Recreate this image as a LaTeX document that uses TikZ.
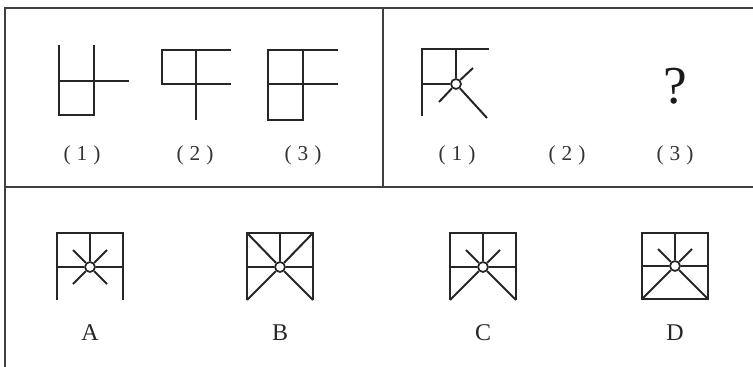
\documentclass[tikz,border=0pt]{standalone}
\usepackage{fontspec}
\setmainfont{Liberation Serif}
\usetikzlibrary{positioning}
\newcommand\figlab[1]{(\kern4.5pt#1\kern4.5pt)}
\tikzset{
	frameline/.style={line width=1.8pt, black!75},
	figline/.style={line width=1.5pt, black!85},
	hub/.style={
		draw=black!85, circle, fill=white, line width=1.3pt,
		minimum size=7.5pt, inner sep=0pt
	},
	numlab/.style={font=\fontsize{16}{18}\selectfont, text=black!80, inner sep=0pt},
	optlab/.style={font=\fontsize{18}{20}\selectfont, text=black!85, inner sep=0pt},
}

\begin{document}
\begin{tikzpicture}[x=0.75pt, y=-0.75pt]
	\useasboundingbox (0,0) rectangle (753,367);
	
	\draw[frameline] (753,8) -- (5,8) -- (5,367);
	\draw[frameline] (5,187) -- (753,187);
	\draw[frameline] (383,8) -- (383,187);
	
	\draw[figline] (59,45) -- (59,115) -- (94,115) -- (94,45);
	\draw[figline] (59,81) -- (129,81);
	\draw[figline] (231,50) -- (162,50) -- (162,84) -- (231,84);
	\draw[figline] (196,50) -- (196,120);
	\draw[figline] (338,50) -- (268,50) -- (268,120) -- (303,120) -- (303,50);
	\draw[figline] (268,84) -- (338,84);
	
	\node[numlab] (l1) at (82,155) {\figlab{1}};
	\node[numlab] (l2) at (195,155) {\figlab{2}};
	\node[numlab] (l3) at (303,155) {\figlab{3}};
	
	\draw[figline] (489,49) -- (422,49) -- (422,116);
	\node[hub] (h1) at (456,84) {};
	\foreach \p in {(456,49),(422,84),(473,68),(439,102),(487,118)}
		\draw[figline] (h1) -- \p;
	\node[font=\fontsize{40}{42}\selectfont, text=black!90, inner sep=0pt] (q) at (675,86) {?};
	
	\node[numlab] (r1) at (457,155) {\figlab{1}};
	\node[numlab] (r2) at (567,155) {\figlab{2}};
	\node[numlab] (r3) at (675,155) {\figlab{3}};
	
	\draw[figline] (57,300) -- (57,233) -- (123,233) -- (123,300);
	\node[hub] (hA) at (90,267) {};
	\foreach \p in {(57,267),(123,267),(90,233),(73,250),(107,250),(73,284),(107,284)}
		\draw[figline] (hA) -- \p;
	
	\draw[figline] (247,300) -- (247,233) -- (313,233) -- (313,300);
	\node[hub] (hB) at (280,267) {};
	\foreach \p in {(247,267),(313,267),(280,233),(247,233),(313,233),(247,300),(313,300)}
		\draw[figline] (hB) -- \p;
	
	\draw[figline] (450,300) -- (450,233) -- (516,233) -- (516,300);
	\node[hub] (hC) at (483,267) {};
	\foreach \p in {(450,267),(516,267),(483,233),(466,250),(500,250),(450,300),(516,300)}
		\draw[figline] (hC) -- \p;
	
	\draw[figline] (642,233) rectangle (708,299);
	\node[hub] (hD) at (675,266) {};
	\foreach \p in {(642,266),(708,266),(675,233),(658,249),(692,249),(642,299),(708,299)}
		\draw[figline] (hD) -- \p;
	
	\node[optlab] (la) at (90,333) {A};
	\node[optlab] (lb) at (280,333) {B};
	\node[optlab] (lc) at (483,333) {C};
	\node[optlab] (ld) at (675,333) {D};
\end{tikzpicture}
\end{document}
